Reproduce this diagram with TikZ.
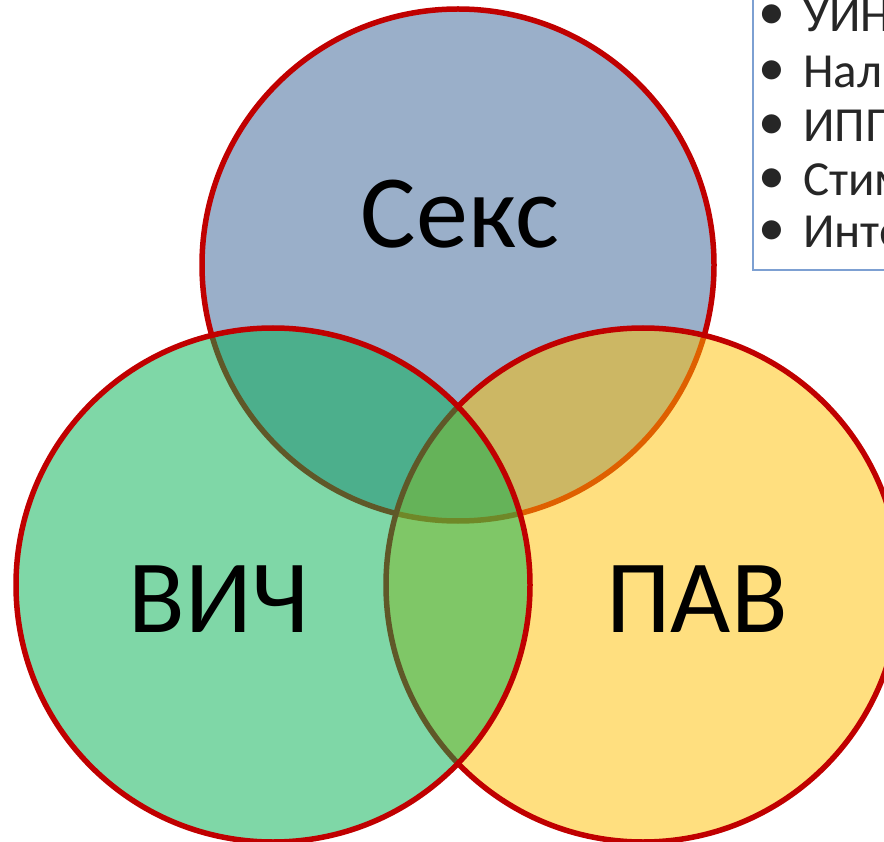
\documentclass[tikz,border=0pt]{standalone}
\usepackage{fontspec}
\setmainfont{Carlito}
\definecolor{ringred}{RGB}{192,0,0}
\definecolor{topblue}{RGB}{55,97,149}
\definecolor{hivgreen}{RGB}{0,176,80}
\definecolor{pavgold}{RGB}{255,192,0}
\definecolor{boxblue}{RGB}{125,160,210}
\definecolor{txtgray}{RGB}{38,38,38}
\begin{document}
\begin{tikzpicture}[x=1pt,y=-1pt,
  ring/.style={draw=ringred,line width=5.5pt,fill opacity=0.5},
  biglabel/.style={font=\fontsize{104}{120}\selectfont,text=black,inner sep=0pt},
  item/.style={font=\fontsize{49}{58}\selectfont,text=txtgray,anchor=base west,inner sep=0pt},
  bul/.style={font=\fontsize{54}{58}\selectfont,text=txtgray,anchor=center,inner sep=0pt}]
\useasboundingbox (0,0) rectangle (884,842);
\clip (0,0) rectangle (884,842);
\fill[white] (0,0) rectangle (884,842);
% circles: top, right, left (drawing order)
\draw[ring,fill=topblue] (458,265) circle[radius=256];
\draw[ring,fill=pavgold] (643,585) circle[radius=257];
\draw[ring,fill=hivgreen] (273,585) circle[radius=257];
% labels
\node[biglabel] (sex) at (460,214) {Секс};
\node[biglabel] (hiv) at (219,599) {ВИЧ};
\node[biglabel] (pav) at (697,599) {ПАВ};
% text box
\draw[draw=boxblue,line width=2pt,fill=white] (753,-10) rectangle (900,270);
\node[item] (t1) at (803,32) {УИН};
\node[item] (t2) at (803,88) {Наличие};
\node[item] (t3) at (803,142) {ИППП};
\node[item] (t4) at (803,196) {Стимуляторы};
\node[item] (t5) at (803,248) {Интернет};
\foreach \r/\yy in {1/17,2/73,3/127,4/181,5/233}
  \node[bul] (b\r) at (772,\yy) {•};
\end{tikzpicture}
\end{document}
